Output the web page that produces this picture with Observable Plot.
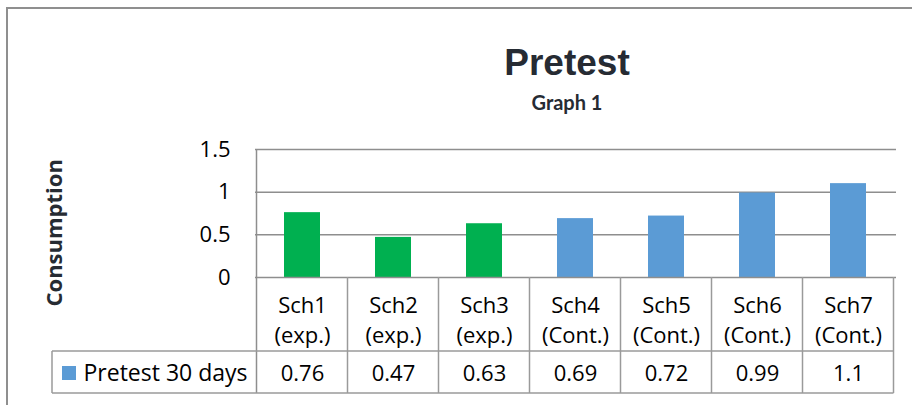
<!DOCTYPE html>
<html>
<head>
<meta charset="utf-8">
<script src="https://cdn.jsdelivr.net/npm/d3@7"></script>
<script src="https://cdn.jsdelivr.net/npm/@observablehq/plot@0.6"></script>
<style>
  html, body { margin: 0; padding: 0; background: #fff; }
  #wrap { position: relative; width: 912px; height: 405px; overflow: hidden; background: #fff; }
  #border { position: absolute; left: 6px; top: 7px; width: 1000px; height: 500px;
            border-top: 2px solid #8f8f8f; border-left: 2px solid #8f8f8f; box-sizing: border-box; }
  #header { position: relative; height: 130px; }
  #title { position: absolute; left: 0; width: 1134px; top: 44px; text-align: center;
           font-family: "Liberation Sans", Arial, sans-serif; font-weight: 700; font-size: 37px;
           line-height: 37px; color: #262b33; }
  #subtitle { position: absolute; left: 0; width: 1134px; top: 92px; text-align: center;
              font-family: Lato, sans-serif; font-weight: 700; font-size: 20px; line-height: 20px; color: #262b33; }
  #chart svg { display: block; }
</style>
</head>
<body>
<div id="wrap">
  <div id="border"></div>
  <div id="header">
    <div id="title">Pretest</div>
    <div id="subtitle">Graph 1</div>
  </div>
  <div id="chart"></div>
</div>
<script>
const schools = ["Sch1", "Sch2", "Sch3", "Sch4", "Sch5", "Sch6", "Sch7"];
const groups = ["exp.", "exp.", "exp.", "Cont.", "Cont.", "Cont.", "Cont."];
const values = [0.76, 0.47, 0.63, 0.69, 0.72, 0.99, 1.1];
const yTicks = [0, 0.5, 1, 1.5];
const seriesName = "Pretest 30 days";
const yLabel = "Consumption";

const data = schools.map((s, i) => ({school: s, group: groups[i], value: values[i]}));

const lineColor = "#9a9a9a";
const gridColor = "#8e8e8e";

function tableMark(index, scales, vals, dims) {
  const {width, height, marginLeft, marginRight, marginTop, marginBottom} = dims;
  const x = scales.x;
  const bw = x.bandwidth ? x.bandwidth() : 0;
  const centers = schools.map(s => x(s) + bw / 2);
  const step = centers[1] - centers[0];
  const bounds = centers.map(c => c - step / 2).concat([centers[centers.length - 1] + step / 2]);
  const top = height - marginBottom;   // axis line
  const rowSplit = top + 74;
  const tableBottom = top + 116;
  const legendLeft = 52;
  const g = d3.create("svg:g").attr("fill", "none").attr("stroke", lineColor).attr("stroke-width", 1.5);
  g.append("line").attr("x1", bounds[0]).attr("x2", bounds[0]).attr("y1", marginTop).attr("y2", tableBottom).attr("stroke", gridColor);
  bounds.slice(1).forEach(b => g.append("line").attr("x1", b).attr("x2", b).attr("y1", top).attr("y2", tableBottom));
  g.append("line").attr("x1", legendLeft).attr("x2", bounds[bounds.length - 1]).attr("y1", rowSplit).attr("y2", rowSplit);
  g.append("line").attr("x1", legendLeft).attr("x2", bounds[bounds.length - 1]).attr("y1", tableBottom).attr("y2", tableBottom);
  g.append("line").attr("x1", legendLeft).attr("x2", legendLeft).attr("y1", rowSplit).attr("y2", tableBottom);
  g.append("rect").attr("x", 62).attr("y", rowSplit + 15).attr("width", 14).attr("height", 14)
    .attr("fill", "#5B9BD5").attr("stroke", "none");
  return g.node();
}

const fs = 22;
const chart = Plot.plot({
  width: 912,
  height: 275,
  marginLeft: 255,
  marginRight: 16,
  marginTop: 19,
  marginBottom: 128,
  style: {fontFamily: "'Open Sans', sans-serif", color: "#000", background: "transparent", overflow: "visible"},
  x: {domain: schools, paddingInner: 0.6, paddingOuter: 0.3, axis: null},
  y: {domain: [0, 1.5], axis: null},
  color: {domain: ["exp.", "Cont."], range: ["#00B050", "#5B9BD5"]},
  marks: [
    Plot.gridY(yTicks.filter(d => d > 0), {stroke: gridColor, strokeOpacity: 1, strokeWidth: 1.5}),
    Plot.barY(data, {x: "school", y: "value", fill: "group"}),
    Plot.ruleY([0], {stroke: gridColor, strokeWidth: 1.5}),
    Plot.axisY({ticks: yTicks, tickSize: 0, tickPadding: 25, fontSize: fs, label: null, tickFormat: d => String(d)}),
    tableMark,
    Plot.text(data, {x: "school", text: d => `${d.school}\n(${d.group})`, frameAnchor: "bottom",
      lineAnchor: "top", dy: 14, lineHeight: 30 / fs, fontSize: fs, fill: "#000"}),
    Plot.text(data, {x: "school", text: d => String(d.value), frameAnchor: "bottom",
      lineAnchor: "top", dy: 87.5, fontSize: fs, fill: "#000"}),
    Plot.text([seriesName], {text: d => d, frameAnchor: "bottom-left", textAnchor: "start",
      lineAnchor: "top", dx: 83 - 255, dy: 87.5, fontSize: 23, fill: "#000"}),
    Plot.text([yLabel], {text: d => d, frameAnchor: "left", rotate: -90, dx: -201, dy: 93,
      fontSize: 22, fontWeight: 700, fill: "#262b33"})
  ]
});
document.getElementById("chart").appendChild(chart);
</script>
</body>
</html>
